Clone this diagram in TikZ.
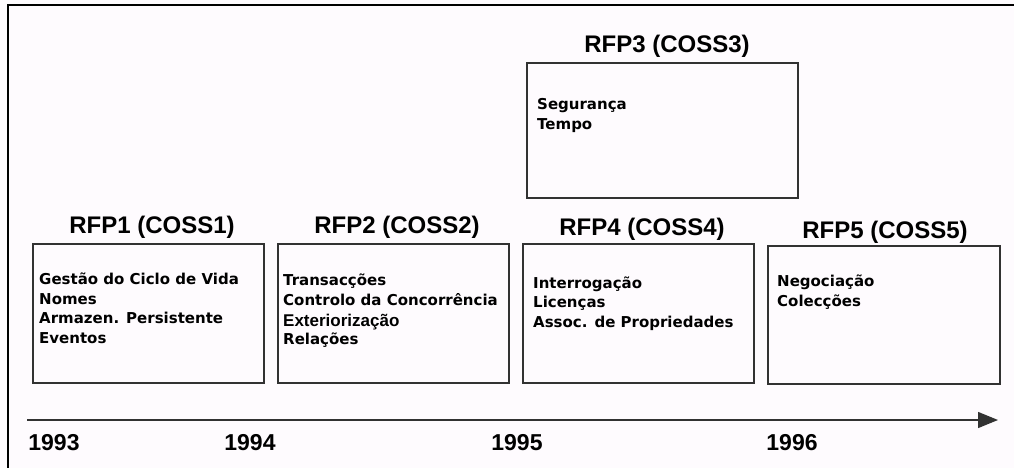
\documentclass[tikz,border=0pt]{standalone}
\usepackage{fontspec}
\usepackage{tikz}
\usetikzlibrary{arrows.meta}
\newfontfamily\arialfont{Liberation Sans}
\newfontfamily\verdfont{DejaVu Sans}
\definecolor{paper}{RGB}{254,251,254}
\definecolor{boxline}{RGB}{50,50,50}

\begin{document}
\begin{tikzpicture}[x=1pt,y=-1pt,
    rfpbox/.style={draw=boxline,line width=1.3pt,minimum width=#1,inner sep=0pt},
    rfpbox/.default=231pt,
    rfptitle/.style={anchor=base,inner sep=0pt,font=\arialfont\bfseries\fontsize{24}{28}\selectfont},
    rfpitems/.style={anchor=base west,inner sep=0pt,align=left,font=\verdfont\bfseries\fontsize{15}{19.5}\selectfont},
    yearlabel/.style={anchor=base,inner sep=0pt,font=\arialfont\bfseries\fontsize{23}{26}\selectfont}]
  \fill[paper] (0,0) rectangle (1014,468);
  \useasboundingbox (0,0) rectangle (1014,468);
  % frame, top and left only
  \draw[line width=2.5pt] (8,468) -- (8,5) -- (1014,5);
  % boxes
  \node[rfpbox,minimum height=139pt] (b1) at (148.5,313.5) {};
  \node[rfpbox,minimum height=139pt] (b2) at (393.5,313.5) {};
  \node[rfpbox=271pt,minimum height=135pt] (b3) at (662.5,130.5) {};
  \node[rfpbox,minimum height=139pt] (b4) at (638.5,313.5) {};
  \node[rfpbox=232pt,minimum height=138pt] (b5) at (884,315) {};
  % titles
  \node[rfptitle] (t1) at (152,233) {RFP1 (COSS1)};
  \node[rfptitle] (t2) at (397,233) {RFP2 (COSS2)};
  \node[rfptitle] (t3) at (667,53) {RFP3 (COSS3)};
  \node[rfptitle] (t4) at (642,235) {RFP4 (COSS4)};
  \node[rfptitle] (t5) at (885,238) {RFP5 (COSS5)};
  % services (base = last line)
  \node[rfpitems] (s1) at (39,343) {Gestão do Ciclo de Vida\\Nomes\\Armazen. Persistente\\Eventos};
  \node[rfpitems] (s2) at (283,344) {Transacções\\Controlo da Concorrência\\[2pt]{\arialfont\fontsize{17}{19.5}\selectfont Exteriorização}\\[-2pt]Relações};
  \node[rfpitems] (s3) at (537,129) {Segurança\\Tempo};
  \node[rfpitems] (s4) at (533,327) {Interrogação\\Licenças\\Assoc. de Propriedades};
  \node[rfpitems] (s5) at (777,306) {Negociação\\Colecções};
  % time axis
  \coordinate (a0) at (27,420);
  \coordinate (a1) at (998,420);
  \draw[boxline,line width=1.3pt,-{Triangle[length=20pt,width=16pt]}] (a0) -- (a1);
  \foreach \yr/\xx in {1993/54,1994/250,1995/517,1996/792}
    \node[yearlabel] (y\yr) at (\xx,450) {\yr};
\end{tikzpicture}
\end{document}
